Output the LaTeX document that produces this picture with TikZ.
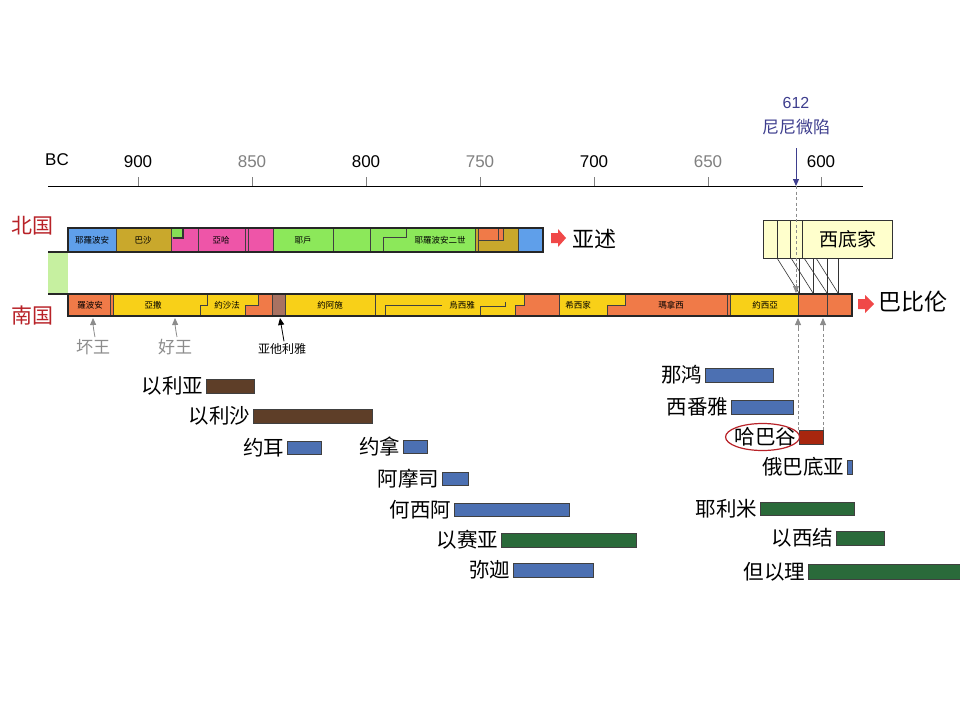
\documentclass[tikz,border=0pt]{standalone}
\usepackage{fontspec}
\setmainfont{Liberation Sans}
\newfontfamily\cjk{Noto Sans CJK SC}
\usetikzlibrary{arrows.meta}
\definecolor{nblue}{HTML}{5F9FEA}
\definecolor{olive}{HTML}{C9A82C}
\definecolor{npink}{HTML}{EE55A8}
\definecolor{ngreen}{HTML}{8CE85A}
\definecolor{lgreen}{HTML}{C6F0A0}
\definecolor{sorange}{HTML}{F07A48}
\definecolor{syellow}{HTML}{F8D018}
\definecolor{sbrown}{HTML}{A87262}
\definecolor{kred}{HTML}{B82228}
\definecolor{arrred}{HTML}{F04848}
\definecolor{navy}{HTML}{3E3E8E}
\definecolor{pblue}{HTML}{4C70B2}
\definecolor{pgreen}{HTML}{2A6A3A}
\definecolor{pbrown}{HTML}{5E3E28}
\definecolor{pred}{HTML}{A8260E}
\definecolor{cream}{HTML}{FFFFCC}
\definecolor{gline}{HTML}{8C8C8C}
\tikzset{
  axisline/.style={line width=1pt, black},
  tickline/.style={line width=0.5pt, gray},
  yearlbl/.style={font=\fontsize{17}{17}\selectfont, inner sep=0pt},
  segline/.style={line width=0.6pt, black!75},
  barframe/.style={line width=1.1pt, black!85},
  seglbl/.style={font=\cjk\fontsize{8.5}{8.5}\selectfont, inner sep=0pt},
  kingdom/.style={font=\cjk\fontsize{21}{21}\selectfont, text=kred, inner sep=0pt},
  empire/.style={font=\cjk\fontsize{22}{22}\selectfont, inner sep=0pt},
  redarrow/.style={fill=arrred},
  graytip/.style={-{Triangle[length=7pt,width=6pt]}, gline, line width=0.8pt},
  dashgray/.style={gline, line width=0.7pt, dash pattern=on 3pt off 2.5pt},
  callbox/.style={fill=cream, draw=black!80, line width=0.6pt},
  callline/.style={draw=black!80, line width=0.6pt},
  pbar/.style={draw=black!75, line width=0.7pt, inner sep=0pt, outer sep=0pt},
  pname/.style={font=\cjk\fontsize{20.5}{20.5}\selectfont, inner sep=2.5pt},
  kinglbl/.style={font=\cjk\fontsize{17}{17}\selectfont, text=gline, inner sep=0pt},
}
\newcommand{\prophet}[7]{%
  \pgfmathsetmacro{\pw}{#4-#3}\pgfmathsetmacro{\ph}{#6-#5}%
  \node[pbar, fill=#7, minimum width=\pw pt, minimum height=\ph pt, anchor=north west] (#1) at (#3,#5) {};
  \node[pname, anchor=east] (#1t) at (#1.west) {#2};
}
\begin{document}
\begin{tikzpicture}[x=1pt,y=-1pt]
\useasboundingbox[fill=white] (0,0) rectangle (960,720);

% ---------- axis ----------
\draw[axisline] (48,186) coordinate (axL) -- (863,186) coordinate (axR);
\node[yearlbl] (bc) at (57,160) {BC};
\foreach \x/\y/\c in {138/900/black,252/850/gray,366/800/black,480/750/gray,594/700/black,708/650/gray,821/600/black}{
  \draw[tickline] (\x,177) -- (\x,186);
  \node[yearlbl, text=\c] (y\y) at (\x,162) {\y};
}
\node[font=\fontsize{16}{16}\selectfont, text=navy, inner sep=0pt] (n612) at (796,103) {612};
\node[font=\cjk\fontsize{17}{17}\selectfont, text=navy, inner sep=0pt] (nini) at (796,127) {尼尼微陷};
\coordinate (a612s) at (796,148);
\coordinate (a612e) at (796,186);
\draw[navy, line width=1pt, -{Triangle[length=7pt,width=6pt]}] (a612s) -- (a612e);

% ---------- callouts ----------
\foreach \L/\d/\t in {763/777/799, 777/791/813, 790/804/827, 802/816/838}{
  \draw[callline] (\d,258) -- (\t,293);
  \draw[callline] (\t,258) -- (\t,293);
  \draw[callbox] (\L,220) rectangle (892,258);
}
\node[font=\cjk\fontsize{19}{19}\selectfont, inner sep=0pt] (zede) at (848,239) {西底家};
\coordinate (d612b) at (796,293);
\draw[dashgray] (a612e) -- (796,286);
\draw[graytip] (796,284) -- (d612b);

% ---------- north kingdom ----------
\fill[nblue] (68,228) rectangle (116,252);
\fill[olive] (116,228) rectangle (171,252);
\fill[npink] (171,228) rectangle (273,252);
\fill[ngreen!80!black!20!ngreen] (171,228) rectangle (183,237);
\fill[ngreen] (273,228) rectangle (475,252);
\fill[olive] (475,228) rectangle (518,252);
\fill[sorange] (478,228) rectangle (503,240);
\fill[nblue] (518,228) rectangle (543,252);
\foreach \x in {116,171,198,245,248,273,333,370,475,478,518}{
  \draw[segline] (\x,228) -- (\x,252);
}
\draw[line width=1.2pt, black!80] (173,238) -- (183,238) -- (183,228);
\draw[segline] (478,240) -- (503,240) -- (503,228);
\draw[segline] (498,228) -- (498,240);
\draw[segline] (383,252) -- (383,237) -- (406,237) -- (406,228);
\draw[barframe] (68,228) rectangle (543,252);
\node[seglbl] (nk1) at (92,240) {耶羅波安};
\node[seglbl] (nk2) at (143,240) {巴沙};
\node[seglbl] (nk3) at (221,240) {亞哈};
\node[seglbl] (nk4) at (303,240) {耶戶};
\node[seglbl] (nk5) at (440,240) {耶羅波安二世};

% left green block
\fill[lgreen] (48,252) rectangle (68,294);
\draw[barframe] (48,252) -- (68,252);
\draw[barframe] (48,294) -- (68,294);

% ---------- south kingdom ----------
\fill[syellow] (68,294) rectangle (852,316);
\fill[sorange] (68,294) rectangle (113,316);
\fill[sorange] (258,294) -- (272,294) -- (272,316) -- (245,316) -- (245,305) -- (258,305) -- cycle;
\fill[sbrown] (272,294) rectangle (285,316);
\fill[sorange] (524,294) -- (559,294) -- (559,316) -- (515,316) -- (515,305) -- (524,305) -- cycle;
\fill[sorange] (625,294) -- (852,294) -- (852,316) -- (607,316) -- (607,305) -- (625,305) -- cycle;
\fill[syellow] (730,294) rectangle (798,316);
\foreach \x in {110,113,272,285,375,559,727,730,798,827}{
  \draw[segline] (\x,294) -- (\x,316);
}
\draw[segline] (200,316) -- (200,305) -- (207,305) -- (207,294);
\draw[segline] (245,316) -- (245,305) -- (258,305) -- (258,294);
\draw[segline] (385,316) -- (385,305) -- (442,305);
\draw[segline] (480,316) -- (480,306) -- (505,306) -- (505,302);
\draw[segline] (515,316) -- (515,305) -- (524,305) -- (524,294);
\draw[segline] (607,316) -- (607,305) -- (625,305) -- (625,294);
\draw[barframe] (68,294) rectangle (852,316);
\node[seglbl] (sk1) at (90,305) {羅波安};
\node[seglbl] (sk2) at (153,305) {亞撒};
\node[seglbl] (sk3) at (227,305) {約沙法};
\node[seglbl] (sk4) at (330,305) {約阿施};
\node[seglbl] (sk5) at (462,305) {烏西雅};
\node[seglbl] (sk6) at (578,305) {希西家};
\node[seglbl] (sk7) at (671,305) {瑪拿西};
\node[seglbl] (sk8) at (765,305) {約西亞};

% ---------- kingdom / empire labels ----------
\node[kingdom] (north) at (33,226) {北国};
\node[kingdom] (south) at (33,316) {南国};
\fill[redarrow] (551,233) -- (558,233) -- (558,229) -- (566,238) -- (558,247) -- (558,243) -- (551,243) -- cycle;
\node[empire] (assyria) at (594,239) {亚述};
\fill[redarrow] (858,299) -- (865,299) -- (865,295) -- (874,304) -- (865,313) -- (865,309) -- (858,309) -- cycle;
\node[empire, font=\cjk\fontsize{23}{23}\selectfont] (babylon) at (913,302) {巴比伦};

% ---------- king markers ----------
\node[kinglbl] (bad) at (93,347) {坏王};
\node[kinglbl] (good) at (175,347) {好王};
\node[font=\cjk\fontsize{12}{12}\selectfont, inner sep=0pt] (athal) at (282,349) {亚他利雅};
\coordinate (badT) at (93,318);
\coordinate (goodT) at (175,318);
\coordinate (athT) at (280,318);
\draw[graytip] (bad.north) ++(2,-2) to[bend left=5] (badT);
\draw[graytip] (good.north) ++(2,-2) to[bend left=5] (goodT);
\draw[-{Triangle[length=7pt,width=6pt]}, black, line width=0.8pt] (athal.north) ++(2,-2) -- (athT);

% ---------- prophets ----------
\prophet{elijah}{以利亚}{206}{254}{379}{393}{pbrown}
\prophet{elisha}{以利沙}{253}{372}{409}{423}{pbrown}
\prophet{joel}{约耳}{287}{321}{441}{454}{pblue}
\prophet{jonah}{约拿}{403}{427}{440}{453}{pblue}
\prophet{amos}{阿摩司}{442}{468}{472}{485}{pblue}
\prophet{hosea}{何西阿}{454}{569}{503}{516}{pblue}
\prophet{isaiah}{以赛亚}{501}{636}{533}{547}{pgreen}
\prophet{micah}{弥迦}{513}{593}{563}{577}{pblue}
\prophet{nahum}{那鸿}{705}{773}{368}{382}{pblue}
\prophet{zeph}{西番雅}{731}{793}{400}{414}{pblue}
\prophet{habak}{哈巴谷}{799}{823}{430}{444}{pred}
\prophet{obad}{俄巴底亚}{847}{852}{460}{474}{pblue}
\prophet{jer}{耶利米}{760}{854}{502}{515}{pgreen}
\prophet{ezek}{以西结}{836}{884}{531}{545}{pgreen}
\prophet{dan}{但以理}{808}{960}{564}{579}{pgreen}
\draw[kred, line width=1.2pt] ([xshift=-3pt]habakt.center) ellipse [x radius=37, y radius=13.5];

% dashed guides below south bar
\coordinate (g1) at (798,318);
\coordinate (g2) at (823,318);
\draw[dashgray] (habak.north west) ++(-1,0) -- (798,326);
\draw[graytip] (798,328) -- (g1);
\draw[dashgray] (habak.north east) -- (823,326);
\draw[graytip] (823,328) -- (g2);
\end{tikzpicture}
\end{document}
